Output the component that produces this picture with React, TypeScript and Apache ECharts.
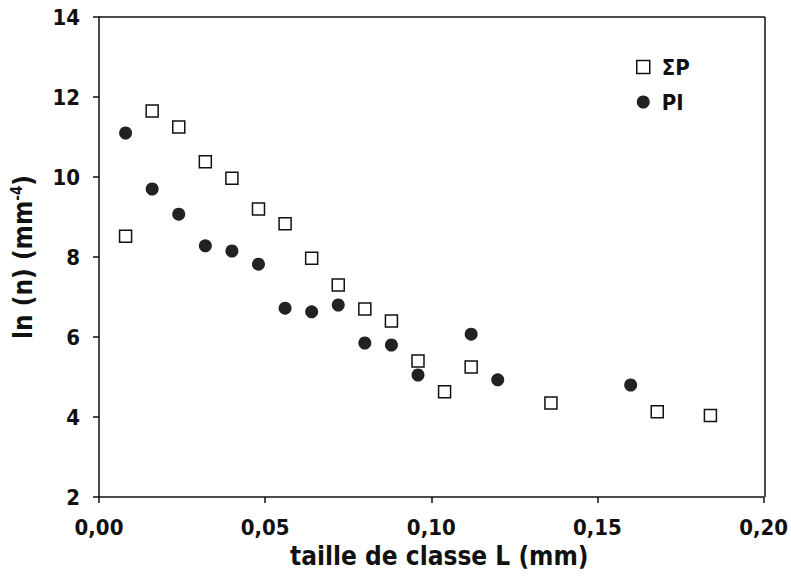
import React, { useEffect, useRef } from "react";
import * as echarts from "echarts";

const xSP = [0.008, 0.016, 0.024, 0.032, 0.04, 0.048, 0.056, 0.064, 0.072, 0.08, 0.088, 0.096, 0.104, 0.112, 0.136, 0.168, 0.184];
const ySP = [8.52, 11.65, 11.25, 10.38, 9.97, 9.2, 8.83, 7.97, 7.3, 6.7, 6.4, 5.4, 4.63, 5.25, 4.35, 4.13, 4.04];
const xPI = [0.008, 0.016, 0.024, 0.032, 0.04, 0.048, 0.056, 0.064, 0.072, 0.08, 0.088, 0.096, 0.112, 0.12, 0.16];
const yPI = [11.1, 9.7, 9.07, 8.28, 8.15, 7.82, 6.72, 6.63, 6.8, 5.85, 5.8, 5.05, 6.07, 4.93, 4.8];
const xTicks = ["0,00", "0,05", "0,10", "0,15", "0,20"];
const seriesNames = ["ΣP", "PI"];

const FONT = "'DejaVu Sans Condensed', 'DejaVu Sans', sans-serif";
const INK = "#111";

export default function App() {
  const ref = useRef<HTMLDivElement>(null);
  useEffect(() => {
    if (!ref.current) return;
    const chart = echarts.init(ref.current, null, { renderer: "svg" });
    const axisLine = { show: true, lineStyle: { color: INK, width: 1.5 } };
    chart.setOption({
      animation: false,
      backgroundColor: "#fff",
      grid: { left: 99, top: 17, width: 666, height: 480, show: false },
      legend: {
        orient: "vertical",
        left: 636,
        top: 56,
        padding: 0,
        itemGap: 13,
        itemWidth: 13,
        itemHeight: 13,
        textStyle: { fontFamily: FONT, fontWeight: "bold", fontSize: 22, color: INK, lineHeight: 22, padding: [0, 0, 0, 7] },
        data: [
          { name: seriesNames[0], icon: "rect", itemStyle: { color: "#fff", borderColor: INK, borderWidth: 1.5 } },
          { name: seriesNames[1], icon: "circle", itemStyle: { color: "#222" } },
        ],
      },
      xAxis: {
        type: "value",
        min: 0,
        max: 0.2,
        interval: 0.05,
        axisLine,
        axisTick: { show: true, inside: false, length: 6, lineStyle: { color: INK, width: 1.5 } },
        splitLine: { show: false },
        axisLabel: {
          margin: 19,
          fontFamily: FONT,
          fontWeight: "bold",
          fontSize: 22,
          color: INK,
          formatter: (v: number) => xTicks[Math.round(v / 0.05)] ?? "",
        },
        name: "taille de classe L (mm)",
        nameLocation: "middle",
        nameGap: 42,
        nameTextStyle: { fontFamily: FONT, fontWeight: "bold", fontSize: 26, color: INK, padding: [0, 0, 0, 16] },
      },
      yAxis: {
        type: "value",
        min: 2,
        max: 14,
        interval: 2,
        axisLine,
        axisTick: { show: true, inside: false, length: 6, lineStyle: { color: INK, width: 1.5 } },
        splitLine: { show: false },
        axisLabel: { margin: 19, fontFamily: FONT, fontWeight: "bold", fontSize: 22, color: INK, padding: [8, 0, 0, 0] },
        name: "ln (n) (mm{sup|-4})",
        nameLocation: "middle",
        nameGap: 63,
        nameRotate: 90,
        nameTextStyle: {
          fontFamily: FONT,
          fontWeight: "bold",
          fontSize: 26,
          color: INK,
          rich: { sup: { fontFamily: FONT, fontSize: 15, fontWeight: "bold", color: INK, verticalAlign: "top", padding: [0, 0, 12, 0] } },
        },
      },
      series: [
        {
          name: seriesNames[0],
          type: "scatter",
          symbol: "rect",
          symbolSize: 12,
          itemStyle: { color: "#fff", borderColor: INK, borderWidth: 1.5, opacity: 1 },
          data: xSP.map((x, i) => [x, ySP[i]]),
          z: 3,
        },
        {
          name: seriesNames[1],
          type: "scatter",
          symbol: "circle",
          symbolSize: 13,
          itemStyle: { color: "#222", opacity: 1 },
          data: xPI.map((x, i) => [x, yPI[i]]),
          z: 4,
        },
      ],
      graphic: [
        { type: "line", shape: { x1: 99, y1: 17, x2: 765, y2: 17 }, style: { stroke: INK, lineWidth: 1.5 } },
        { type: "line", shape: { x1: 765, y1: 17, x2: 765, y2: 497 }, style: { stroke: INK, lineWidth: 1.5 } },
      ],
    });
    return () => chart.dispose();
  }, []);
  return <div ref={ref} style={{ position: "fixed", left: 0, top: 0, width: 791, height: 576 }} />;
}
